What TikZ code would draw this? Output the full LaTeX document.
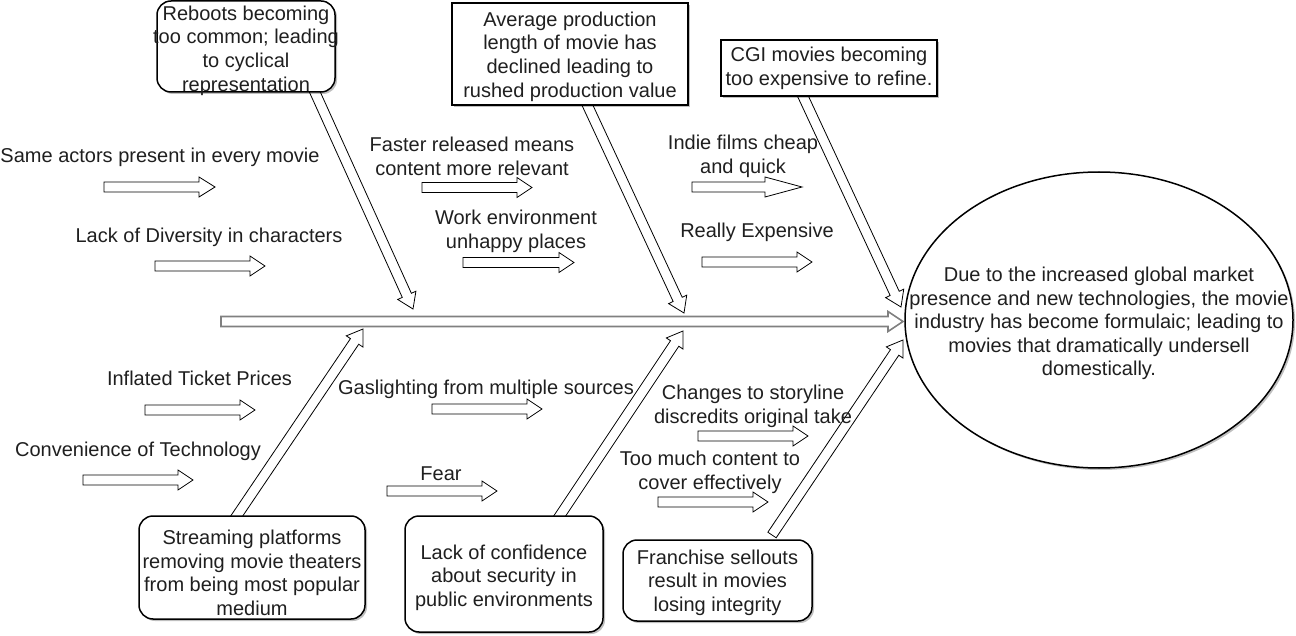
\documentclass[tikz,border=0pt]{standalone}
\usepackage{fontspec}
\setmainfont{Liberation Sans}
\usetikzlibrary{calc,shapes.geometric,shadows}
\newcommand\holarrow[4][harr]{%
  \coordinate (hbtmp) at ($(#3)!#4!(#2)$);
  \path[#1] ($(#2)!5pt!90:(#3)$) -- ($(hbtmp)!5pt!90:(#3)$) -- ($(hbtmp)!10pt!90:(#3)$) -- (#3)
    -- ($(hbtmp)!10pt!-90:(#3)$) -- ($(hbtmp)!5pt!-90:(#3)$) -- ($(#2)!5pt!-90:(#3)$) -- cycle;}
\begin{document}
\begin{tikzpicture}[x=1pt,y=-1pt,
  lbl/.style={font=\fontsize{20}{23.6}\selectfont, align=center, inner sep=0pt, text=black!88, yshift=-1.5pt},
  box/.style={draw=black, line width=1.5pt, fill=white, inner sep=0pt,
    drop shadow={shadow xshift=2pt,shadow yshift=-2pt,opacity=0.25,fill=black}},
  rbox/.style={box, rounded corners=14pt},
  harr/.style={draw=black, line width=0.8pt, fill=white, line join=miter},
  spinearr/.style={draw=black!50, line width=1.6pt, fill=white, line join=miter}]
\useasboundingbox (0,0) rectangle (1296,636);

% coordinates
\coordinate (sp0) at (221,321.5); \coordinate (sp1) at (903,321.5);
\coordinate (a1s) at (104,187);  \coordinate (a1e) at (215,187);
\coordinate (a2s) at (155,266);  \coordinate (a2e) at (265,266);
\coordinate (a3s) at (422,187.5);\coordinate (a3e) at (532,187.5);
\coordinate (a4s) at (463,262.5);\coordinate (a4e) at (574,262.5);
\coordinate (a5s) at (692,187);  \coordinate (a5e) at (802,187);
\coordinate (a6s) at (702,262);  \coordinate (a6e) at (812,262);
\coordinate (a7s) at (145,410);  \coordinate (a7e) at (255,410);
\coordinate (a8s) at (83,480);   \coordinate (a8e) at (193,480);
\coordinate (a9s) at (432,409);  \coordinate (a9e) at (542,409);
\coordinate (a10s) at (387,491); \coordinate (a10e) at (497,491);
\coordinate (a11s) at (698,436); \coordinate (a11e) at (808,436);
\coordinate (a12s) at (658,502); \coordinate (a12e) at (768,502);
\coordinate (d1s) at (313,88);   \coordinate (d1e) at (413,309);
\coordinate (d2s) at (585,100);  \coordinate (d2e) at (684,313);
\coordinate (d3s) at (801,92);   \coordinate (d3e) at (901,307);
\coordinate (d4s) at (234,520);  \coordinate (d4e) at (363,329);
\coordinate (d5s) at (557,520);  \coordinate (d5e) at (683,331);
\coordinate (d6s) at (772,535);  \coordinate (d6e) at (903,340);

% spine and arrows
\holarrow[spinearr]{sp0}{sp1}{15pt}
\holarrow{a1s}{a1e}{16pt}
\holarrow{a2s}{a2e}{15pt}
\holarrow{a3s}{a3e}{15pt}
\holarrow{a4s}{a4e}{15pt}
\holarrow{a5s}{a5e}{37pt}
\holarrow{a6s}{a6e}{15pt}
\holarrow{a7s}{a7e}{15pt}
\holarrow{a8s}{a8e}{15pt}
\holarrow{a9s}{a9e}{15pt}
\holarrow{a10s}{a10e}{15pt}
\holarrow{a11s}{a11e}{15pt}
\holarrow{a12s}{a12e}{15pt}
\holarrow{d1s}{d1e}{15pt}
\holarrow{d2s}{d2e}{15pt}
\holarrow{d3s}{d3e}{15pt}
\holarrow{d4s}{d4e}{15pt}
\holarrow{d5s}{d5e}{15pt}
\holarrow{d6s}{d6e}{15pt}

% boxes
\node[rbox, minimum width=178pt, minimum height=91pt] (reboots) at (246,46.5) {};
\node[box, minimum width=236pt, minimum height=102pt] (average) at (570,54) {};
\node[box, minimum width=216pt, minimum height=56pt] (cgi) at (829,68) {};
\node[rbox, minimum width=226pt, minimum height=103pt] (streaming) at (252,567.5) {};
\node[rbox, minimum width=198pt, minimum height=116pt] (confidence) at (504,574) {};
\node[rbox, minimum width=189pt, minimum height=81pt] (franchise) at (717.5,580.5) {};
\node[box, ellipse, minimum width=388pt, minimum height=296pt] (effect) at (1099,320) {};

% box texts
\node[lbl] (reboots-t) at (246,49) {Reboots becoming\\too common; leading\\to cyclical\\representation};
\node[lbl] (average-t) at (570,55) {Average production\\length of movie has\\declined leading to\\rushed production value};
\node[lbl] (cgi-t) at (829,67) {CGI movies becoming\\too expensive to refine.};
\node[lbl] (streaming-t) at (252,571.5) {Streaming platforms\\removing movie theaters\\from being most popular\\medium};
\node[lbl] (confidence-t) at (504,576) {Lack of confidence\\about security in\\public environments};
\node[lbl] (franchise-t) at (717.5,581) {Franchise sellouts\\result in movies\\losing integrity};
\node[lbl] (effect-t) at (1099,322) {Due to the increased global market\\presence and new technologies, the movie\\industry has become formulaic; leading to\\movies that dramatically undersell\\domestically.};

% cause labels
\node[lbl] (t1) at (160,156) {Same actors present in every movie};
\node[lbl] (t2) at (209,236) {Lack of Diversity in characters};
\node[lbl] (t3) at (472,155) {Faster released means\\content more relevant};
\node[lbl] (t4) at (516,230) {Work environment\\unhappy places};
\node[lbl] (t5) at (743,155) {Indie films cheap\\and quick};
\node[lbl] (t6) at (757,231) {Really Expensive};
\node[lbl] (t7) at (199.5,377) {Inflated Ticket Prices};
\node[lbl] (t8) at (138,450) {Convenience of Technology};
\node[lbl] (t9) at (486,388) {Gaslighting from multiple sources};
\node[lbl] (t10) at (441,472) {Fear};
\node[lbl] (t11) at (753,405) {Changes to storyline\\discredits original take};
\node[lbl] (t12) at (710,471) {Too much content to\\cover effectively};
\end{tikzpicture}
\end{document}
